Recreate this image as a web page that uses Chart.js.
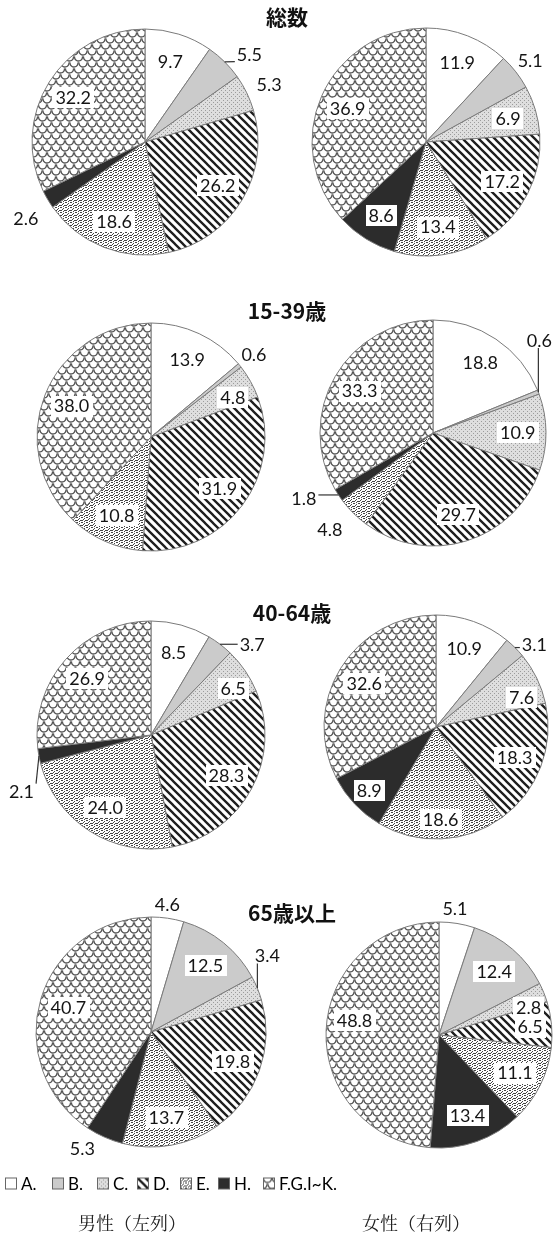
<!DOCTYPE html>
<html lang="ja">
<head>
<meta charset="utf-8">
<script src="https://cdn.jsdelivr.net/npm/chart.js@4.4.1/dist/chart.umd.min.js"></script>
<style>
  html, body { margin: 0; padding: 0; background: #fff; }
  body { width: 554px; height: 1239px; position: relative; overflow: hidden; color: #1a1a1a; }
  canvas.pie { position: absolute; }
  .ttl { position: absolute; transform: translate(-50%, -50%); white-space: nowrap;
         font: 700 21px "Noto Sans CJK JP", sans-serif; color: #111; }
  .leg { position: absolute; display: flex; align-items: center; transform: translateY(-50%);
         font: 17px Lato, sans-serif; color: #000; white-space: nowrap; }
  .leg canvas { margin-right: 4px; }
  .cap { position: absolute; transform: translate(-50%, -50%); white-space: nowrap;
         font: 400 18px "Noto Serif CJK JP", "Noto Sans CJK JP", serif; color: #222; }
</style>
</head>
<body>
<script>
// Shares (%) by category, per age group and sex
const categories = ['A.', 'B.', 'C.', 'D.', 'E.', 'H.', 'F.G.I~K.'];
const groupTitles = ['総数', '15-39歳', '40-64歳', '65歳以上'];
const columnLabels = ['男性（左列）', '女性（右列）'];

const maleTotal      = [9.7, 5.5, 5.3, 26.2, 18.6, 2.6, 32.2];
const femaleTotal    = [11.9, 5.1, 6.9, 17.2, 13.4, 8.6, 36.9];
const male15to39     = [13.9, 0.6, 4.8, 31.9, 10.8, 0, 38.0];
const female15to39   = [18.8, 0.6, 10.9, 29.7, 4.8, 1.8, 33.3];
const male40to64     = [8.5, 3.7, 6.5, 28.3, 24.0, 2.1, 26.9];
const female40to64   = [10.9, 3.1, 7.6, 18.3, 18.6, 8.9, 32.6];
const male65plus     = [4.6, 12.5, 3.4, 19.8, 13.7, 5.3, 40.7];
const female65plus   = [5.1, 12.4, 2.8, 6.5, 11.1, 13.4, 48.8];

// Pie placement; `place` tweaks a value label: [radius factor, angle shift in degrees, leader line]
const pies = [
  { data: maleTotal,    cx: 145, cy: 142,  r: 113, place: { 1: [1.21, 5, true], 2: [1.21, 1], 5: [1.25, -2] } },
  { data: femaleTotal,  cx: 426, cy: 142,  r: 114, place: { 1: [1.16, 0] } },
  { data: male15to39,   cx: 151, cy: 437,  r: 114, place: { 1: [1.16, 0], 2: [0.80, 3] } },
  { data: female15to39, cx: 433, cy: 433,  r: 113, place: { 1: [1.25, -20, true], 4: [1.25, 2], 5: [1.28, 6.5, true] } },
  { data: male40to64,   cx: 151, cy: 735,  r: 114, place: { 1: [1.19, 11, true], 2: [0.83, 4.6], 5: [1.24, -13, true] } },
  { data: female40to64, cx: 436, cy: 727,  r: 112, place: { 1: [1.15, 5, true], 2: [0.81, 6.7], 4: [0.82, 0], 5: [0.82, 0] } },
  { data: male65plus,   cx: 151, cy: 1032, r: 115, place: { 0: [1.12, -1], 2: [1.21, -11, true], 5: [1.17, 6.7] } },
  { data: female65plus, cx: 439, cy: 1035, r: 113, place: { 0: [1.13, -2], 2: [0.83, 4.7], 3: [0.81, 0], 6: [0.76, 8] } }
];
const titlePos = [[287, 16], [287, 310], [292, 612], [292, 912]];
const legendX = [5, 52, 97, 137, 180, 218, 263];
const legendY = 1183;
const capPos = [[132, 1222], [416, 1222]];

// Fill patterns for the categories
function tile(w, h, draw) {
  const c = document.createElement('canvas');
  c.width = w; c.height = h;
  const g = c.getContext('2d');
  g.fillStyle = '#fff'; g.fillRect(0, 0, w, h);
  draw(g, w, h);
  return g.createPattern(c, 'repeat');
}
const fills = [
  '#ffffff',
  '#cbcbcb',
  tile(4, 4, g => {
    g.fillStyle = '#dedede'; g.fillRect(0, 0, 4, 4);
    g.fillStyle = '#9c9c9c'; g.fillRect(0, 0, 1, 1); g.fillRect(2, 2, 1, 1);
  }),
  tile(8, 8, (g, s) => {
    g.strokeStyle = '#1e1e1e'; g.lineWidth = 2.3; g.lineCap = 'square';
    g.beginPath();
    g.moveTo(-1, -1); g.lineTo(s + 1, s + 1);
    g.moveTo(-2, s - 2); g.lineTo(2, s + 2);
    g.moveTo(s - 2, -2); g.lineTo(s + 2, 2);
    g.stroke();
  }),
  tile(5, 5, g => {
    g.fillStyle = '#454545';
    [[0,0],[1,0],[3,1],[2,2],[0,3],[1,3],[3,4],[4,3]].forEach(([x, y]) => g.fillRect(x, y, 1, 1));
  }),
  '#2c2c2c',
  tile(9, 12, g => {
    g.strokeStyle = '#555'; g.lineWidth = 1.35;
    const arcs = [[4.5, 1], [0, 7], [9, 7], [4.5, 13], [0, -5], [9, -5]];
    arcs.forEach(([x, y]) => { g.beginPath(); g.arc(x, y, 4, -0.05 * Math.PI, 1.05 * Math.PI); g.stroke(); });
  })
];

// Value labels drawn on top of the slices
function valueLabels(place) {
  return {
    id: 'valueLabels',
    afterDatasetsDraw(chart) {
      const ctx = chart.ctx;
      const meta = chart.getDatasetMeta(0);
      const vals = chart.data.datasets[0].data;
      ctx.save();
      ctx.font = '18px Lato';
      ctx.textAlign = 'center';
      ctx.textBaseline = 'middle';
      meta.data.forEach((arc, i) => {
        const v = vals[i];
        if (!v) return;
        const p = arc.getProps(['x', 'y', 'startAngle', 'endAngle', 'outerRadius'], true);
        const [k, dA, lead] = place[i] || [0.75, 0, false];
        const mid = (p.startAngle + p.endAngle) / 2;
        const a = mid + dA * Math.PI / 180;
        const lx = p.x + Math.cos(a) * k * p.outerRadius;
        const ly = p.y + Math.sin(a) * k * p.outerRadius;
        const txt = v.toFixed(1);
        const w = ctx.measureText(txt).width;
        if (k < 1) {
          ctx.fillStyle = '#fff';
          ctx.fillRect(Math.round(lx - w / 2 - 3), Math.round(ly - 10), Math.round(w + 6), 21);
        }
        if (lead) {
          const ex = p.x + Math.cos(mid) * p.outerRadius;
          const ey = p.y + Math.sin(mid) * p.outerRadius;
          const qx = Math.min(Math.max(ex, lx - w / 2 - 2), lx + w / 2 + 2);
          const qy = Math.min(Math.max(ey, ly - 8), ly + 8);
          ctx.strokeStyle = '#333'; ctx.lineWidth = 1.2;
          ctx.beginPath(); ctx.moveTo(ex, ey); ctx.lineTo(qx, qy); ctx.stroke();
        }
        ctx.fillStyle = '#141414';
        ctx.fillText(txt, lx, ly + 1);
      });
      ctx.restore();
    }
  };
}

const S = 340;
pies.forEach(pie => {
  const cv = document.createElement('canvas');
  cv.className = 'pie';
  cv.width = S; cv.height = S;
  cv.style.left = (pie.cx - S / 2) + 'px';
  cv.style.top = (pie.cy - S / 2) + 'px';
  document.body.appendChild(cv);
  new Chart(cv, {
    type: 'pie',
    data: {
      labels: categories,
      datasets: [{ data: pie.data, backgroundColor: fills, borderColor: '#7a7a7a', borderWidth: 1 }]
    },
    options: {
      responsive: false,
      animation: false,
      events: [],
      radius: pie.r,
      layout: { padding: 0 },
      plugins: { legend: { display: false }, tooltip: { enabled: false } }
    },
    plugins: [valueLabels(pie.place)]
  });
});

groupTitles.forEach((t, i) => {
  const d = document.createElement('div');
  d.className = 'ttl'; d.textContent = t;
  d.style.left = titlePos[i][0] + 'px'; d.style.top = titlePos[i][1] + 'px';
  document.body.appendChild(d);
});

categories.forEach((c, i) => {
  const item = document.createElement('div');
  item.className = 'leg';
  item.style.left = legendX[i] + 'px'; item.style.top = legendY + 'px';
  const b = document.createElement('canvas');
  b.width = 12; b.height = 12;
  const g = b.getContext('2d');
  g.fillStyle = fills[i]; g.fillRect(0, 0, 12, 12);
  g.strokeStyle = '#666'; g.lineWidth = 1; g.strokeRect(0.5, 0.5, 11, 11);
  item.appendChild(b);
  const s = document.createElement('span'); s.textContent = c;
  item.appendChild(s);
  document.body.appendChild(item);
});

columnLabels.forEach((t, i) => {
  const d = document.createElement('div');
  d.className = 'cap'; d.textContent = t;
  d.style.left = capPos[i][0] + 'px'; d.style.top = capPos[i][1] + 'px';
  document.body.appendChild(d);
});
</script>
</body>
</html>
